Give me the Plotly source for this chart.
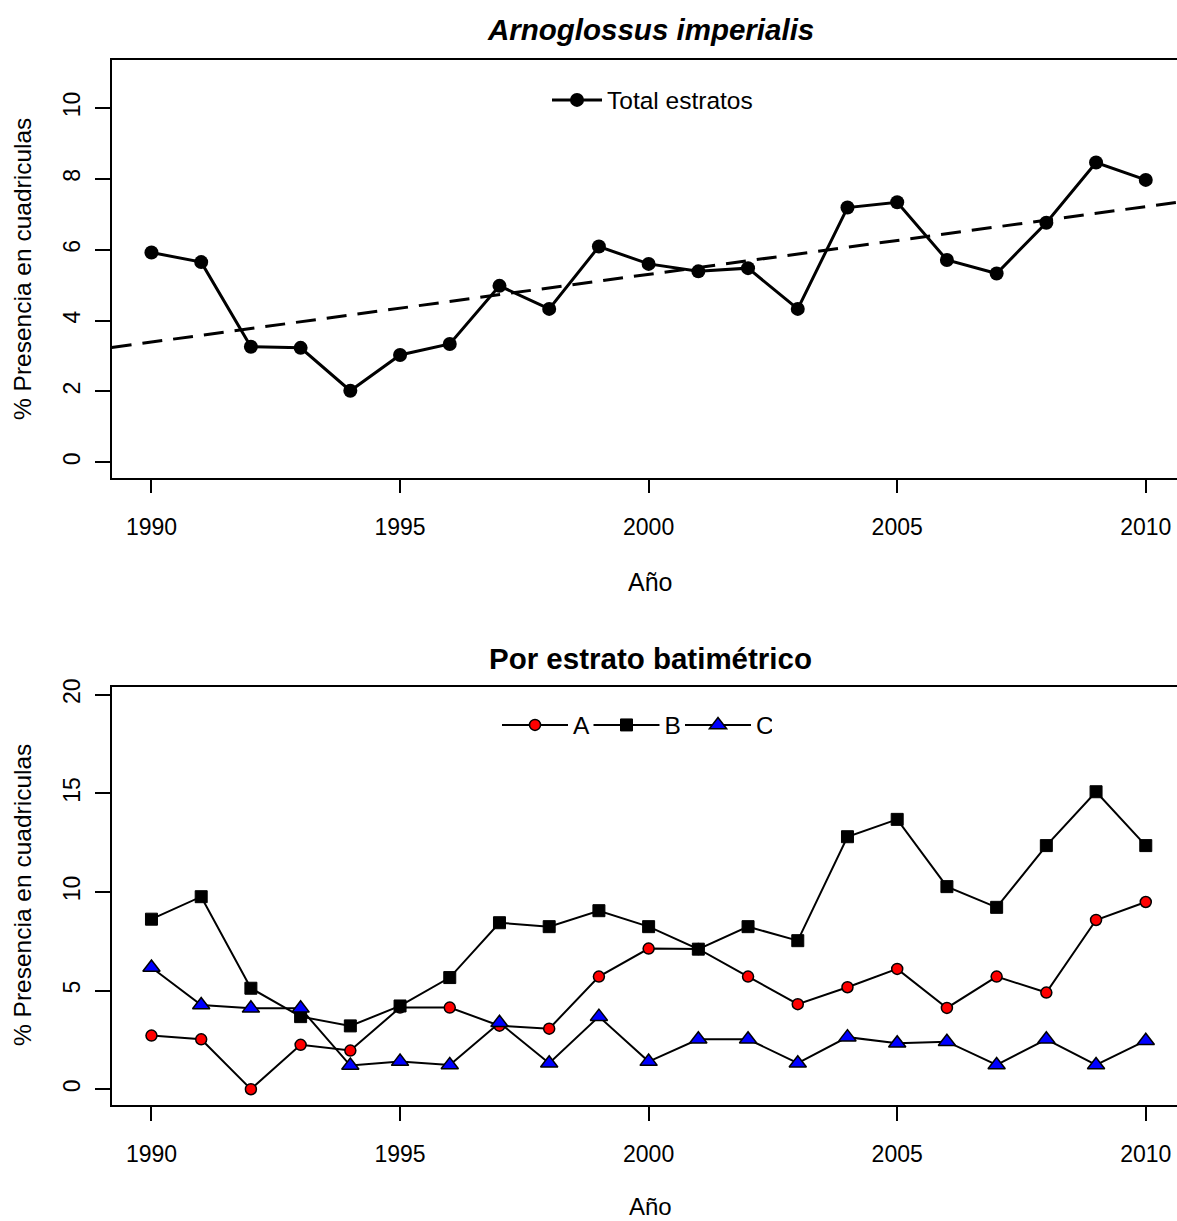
import numpy as np
import plotly.graph_objects as go

years = list(range(1990, 2011))
total_estratos = [5.92, 5.65, 3.26, 3.23, 2.02, 3.03, 3.34, 4.98, 4.33, 6.09, 5.60,
                  5.39, 5.48, 4.33, 7.19, 7.34, 5.71, 5.33, 6.76, 8.46, 7.97]
estrato_a = [2.72, 2.53, 0.0, 2.25, 1.96, 4.14, 4.14, 3.22, 3.07, 5.71, 7.13,
             7.11, 5.71, 4.31, 5.17, 6.10, 4.12, 5.71, 4.90, 8.58, 9.49]
estrato_b = [8.62, 9.76, 5.12, 3.68, 3.21, 4.22, 5.66, 8.44, 8.24, 9.05, 8.24,
             7.10, 8.24, 7.53, 12.80, 13.68, 10.27, 9.22, 12.35, 15.08, 12.35]
estrato_c = [6.17, 4.27, 4.10, 4.10, 1.20, 1.40, 1.23, 3.37, 1.32, 3.68, 1.40,
             2.53, 2.53, 1.32, 2.64, 2.33, 2.41, 1.23, 2.53, 1.23, 2.46]
x_ticks = [1990, 1995, 2000, 2005, 2010]
y_ticks_top = [0, 2, 4, 6, 8, 10]
y_ticks_bottom = [0, 5, 10, 15, 20]

W, H = 1177, 1221
FONT = "Liberation Sans, Arial, sans-serif"

def px(x):
    return x / W

def py(y):
    return 1 - y / H

# linear trend (lm fit) for the total
slope, intercept = np.polyfit(years, total_estratos, 1)
trend_x = [1989.2, 2010.8]
trend_y = [intercept + slope * v for v in trend_x]

fig = go.Figure()

fig.add_trace(go.Scatter(
    x=trend_x, y=trend_y, mode="lines", xaxis="x", yaxis="y",
    line=dict(color="black", width=3, dash="20px,11px"),
    showlegend=False, hoverinfo="skip"))
fig.add_trace(go.Scatter(
    x=years, y=total_estratos, mode="lines+markers", name="Total estratos",
    xaxis="x", yaxis="y", legend="legend",
    line=dict(color="black", width=3),
    marker=dict(symbol="circle", size=14, color="black")))

fig.add_trace(go.Scatter(
    x=years, y=estrato_a, mode="lines+markers", name="A",
    xaxis="x2", yaxis="y2", legend="legend2",
    line=dict(color="black", width=2),
    marker=dict(symbol="circle", size=11, color="red",
                line=dict(color="black", width=1.5))))
fig.add_trace(go.Scatter(
    x=years, y=estrato_b, mode="lines+markers", name="B",
    xaxis="x2", yaxis="y2", legend="legend2",
    line=dict(color="black", width=2),
    marker=dict(symbol="square", size=12, color="black",
                line=dict(color="black", width=1))))
fig.add_trace(go.Scatter(
    x=years, y=estrato_c, mode="lines+markers", name="C",
    xaxis="x2", yaxis="y2", legend="legend2",
    line=dict(color="black", width=2),
    marker=dict(symbol="triangle-up", size=15, color="blue",
                line=dict(color="black", width=1.5))))

xrange = [1989.2, 1989.2 + (W - 111.7) / 49.715]

xaxis_common = dict(
    range=xrange, domain=[px(111.7), 1], tickvals=x_ticks,
    ticktext=[str(v) for v in x_ticks],
    showline=True, mirror=True, linecolor="black", linewidth=1.5,
    ticks="outside", ticklen=14, tickwidth=1.5, tickcolor="black",
    showgrid=False, zeroline=False, automargin=False,
    tickfont=dict(family=FONT, size=23, color="black"),
    ticklabelstandoff=14)
yaxis_common = dict(
    showline=True, mirror=False, linecolor="black", linewidth=1.5,
    ticks="outside", ticklen=15, tickwidth=1.5, tickcolor="black",
    showgrid=False, zeroline=False, automargin=False, tickangle=-90,
    tickfont=dict(family=FONT, size=23, color="black"),
    ticklabelstandoff=6)

fig.update_layout(
    width=W, height=H,
    margin=dict(l=0, r=0, t=0, b=0),
    paper_bgcolor="white", plot_bgcolor="white",
    font=dict(family=FONT, color="black"),
    xaxis=dict(**xaxis_common, anchor="y"),
    yaxis=dict(**yaxis_common, anchor="x", domain=[py(477.7), py(60)],
               range=[-0.435, 11.355], tickvals=y_ticks_top),
    xaxis2=dict(**xaxis_common, anchor="y2"),
    yaxis2=dict(**yaxis_common, anchor="x2", domain=[py(1105), py(686.7)],
                range=[-0.80, 20.405], tickvals=y_ticks_bottom),
    legend=dict(x=px(547), y=py(100), xanchor="left", yanchor="middle",
                itemwidth=50,
                bgcolor="rgba(0,0,0,0)", borderwidth=0,
                font=dict(family=FONT, size=24.5, color="black")),
    legend2=dict(x=px(497), y=py(725), xanchor="left", yanchor="middle",
                 orientation="h", itemwidth=66, entrywidth=10.5,
                 entrywidthmode="pixels",
                 bgcolor="rgba(0,0,0,0)", borderwidth=0,
                 font=dict(family=FONT, size=24.5, color="black")),
    showlegend=True,
)

annotations = [
    dict(text="<b><i>Arnoglossus imperialis</i></b>", x=px(650), y=py(30), size=29.5),
    dict(text="<b>Por estrato batimétrico</b>", x=px(650), y=py(658), size=29.5),
    dict(text="Año", x=px(650), y=py(582), size=25),
    dict(text="Año", x=px(650), y=py(1206), size=24),
]
for a in annotations:
    fig.add_annotation(text=a["text"], x=a["x"], y=a["y"], xref="paper", yref="paper",
                       xanchor="center", yanchor="middle", showarrow=False,
                       font=dict(family=FONT, size=a["size"], color="black"))
for yc in (269, 895):
    fig.add_annotation(text="% Presencia en cuadriculas", x=px(22), y=py(yc),
                       xref="paper", yref="paper", xanchor="center", yanchor="middle",
                       textangle=-90, showarrow=False,
                       font=dict(family=FONT, size=24.5, color="black"))

fig.write_html("out.html")
